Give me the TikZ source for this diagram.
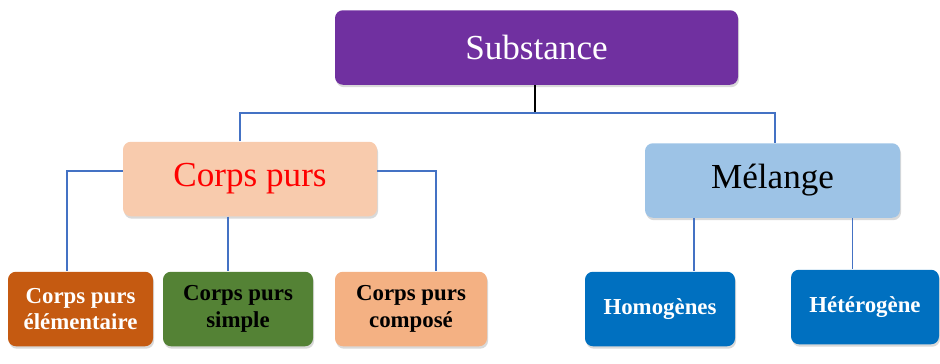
\documentclass[tikz,border=0pt]{standalone}
\usepackage{fontspec}
\setmainfont{Liberation Serif}
\usetikzlibrary{shadows}
\definecolor{subviolet}{HTML}{7030A0}
\definecolor{purpeach}{HTML}{F8CBAD}
\definecolor{melblue}{HTML}{9DC3E6}
\definecolor{elemrust}{HTML}{C55A11}
\definecolor{simgreen}{HTML}{548235}
\definecolor{comppeach}{HTML}{F4B183}
\definecolor{mixblue}{HTML}{0070C0}
\definecolor{linkblue}{HTML}{4472C4}

\begin{document}
\begin{tikzpicture}[
    box/.style={rectangle, rounded corners=4.5pt, inner sep=0pt, align=center,
                drop shadow={opacity=0.3, shadow xshift=0.6pt, shadow yshift=-1.4pt}},
    big/.style={box, minimum height=1.49cm, font=\fontsize{20}{24}\selectfont},
    small/.style={box, minimum height=1.49cm, font=\fontsize{13}{15}\selectfont\bfseries},
    link/.style={draw=linkblue, line width=0.8pt},
    stem/.style={draw=black, line width=0.8pt}]
  \useasboundingbox (0,0) rectangle (18.8,7.26);
  \def\yb{1.08}         % row of the five lower boxes
  % top and middle level
  \node[big, fill=subviolet, text=white, minimum width=8.06cm] (sub) at (10.73,6.31) {Substance};
  \node[big, fill=purpeach, text=red, minimum width=5.08cm] (cp) at (5.00,3.68) {Corps purs};
  \node[big, fill=melblue, text=black, minimum width=5.10cm] (mel) at (15.45,3.65) {Mélange};
  % lower level
  \node[small, fill=elemrust, text=white, minimum width=2.90cm] (elem) at (1.61,\yb) {Corps purs\\élémentaire};
  \node[small, fill=simgreen, text=black, minimum width=3.00cm] (simp) at (4.76,\yb) {Corps purs\\simple};
  \node[small, fill=comppeach, text=black, minimum width=3.04cm] (comp) at (8.22,\yb) {Corps purs\\composé};
  \node[small, fill=mixblue, text=white, minimum width=3.00cm] (homo) at (13.20,\yb) {Homogènes};
  \node[small, fill=mixblue, text=white, minimum width=2.96cm] (hete) at (17.30,\yb+0.04) {Hétérogène};
  % connectors
  \coordinate (top) at (10.70,5.00);
  \draw[stem] (sub.south -| top) -- (top);
  \draw[link] ([xshift=-2mm]cp.north) |- (top) -| ([xshift=0.5mm]mel.north);
  \draw[link] ([yshift=1.6mm]cp.west) -| ([xshift=-2.7mm]elem.north);
  \draw[link] ([yshift=1.6mm]cp.east) -| ([xshift=5mm]comp.north);
  \draw[link] ([xshift=-4.4mm]cp.south) -- ([xshift=-4.4mm]cp.south |- simp.north);
  \draw[link] ([xshift=6.8mm]homo.north |- mel.south) -- ([xshift=6.8mm]homo.north);
  \draw[link] ([xshift=-2.5mm]hete.north |- mel.south) -- ([xshift=-2.5mm]hete.north);
\end{tikzpicture}
\end{document}
